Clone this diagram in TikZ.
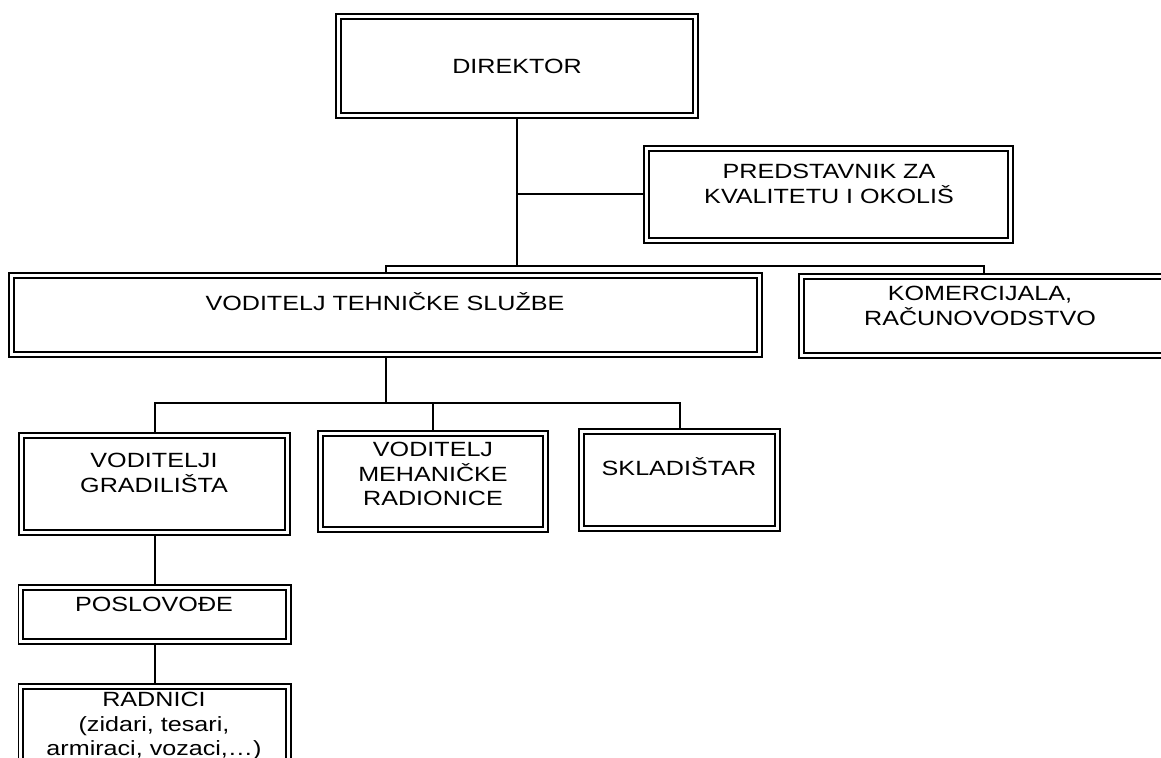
\documentclass[tikz,border=0pt]{standalone}
\usepackage{fontspec}
\setmainfont{Liberation Sans}[FakeStretch=1.22]
\usetikzlibrary{positioning}

\begin{document}
\begin{tikzpicture}[x=0.5pt, y=-0.5pt,
  font=\fontsize{10.3}{12.2}\selectfont,
  unit/.style 2 args={draw, double, double distance=1.5pt, line width=0.9pt, inner sep=0pt, outer sep=1.65pt, minimum width=#1, minimum height=#2},
  lbl/.style={align=center, inner sep=0pt},
  link/.style={line width=1pt}]
\path[use as bounding box, fill=white] (0,0) rectangle (1161,758);
\node[unit={178.7pt}{49.7pt}] (dir) at (517,66) {};
\node[unit={182.2pt}{46.2pt}] (rep) at (828.5,194.5) {};
\node[unit={374.2pt}{39.7pt}] (tech) at (385.5,315) {};
\node[unit={182.7pt}{39.7pt}] (com) at (984,316) {};
\node[unit={133.2pt}{48.7pt}] (site) at (154.5,484) {};
\node[unit={112.7pt}{48.2pt}] (mech) at (433,481.5) {};
\node[unit={98.2pt}{48.7pt}] (store) at (679.5,480) {};
\node[unit={133.7pt}{27.2pt}] (fore) at (154.5,614.5) {};
\node[unit={133.7pt}{42.7pt}] (work) at (154.5,729) {};
\node[lbl] (dirtxt) at (517,66) {DIREKTOR};
\node[lbl] (reptxt) at (829,184) {PREDSTAVNIK ZA\\KVALITETU I OKOLIŠ};
\node[lbl] (techtxt) at (385,302) {VODITELJ TEHNIČKE SLUŽBE};
\node[lbl] (comtxt) at (980,306) {KOMERCIJALA,\\RAČUNOVODSTVO};
\node[lbl] (sitetxt) at (154,473) {VODITELJI\\GRADILIŠTA};
\node[lbl] (mechtxt) at (433,474) {VODITELJ\\MEHANIČKE\\RADIONICE};
\node[lbl] (storetxt) at (679,467) {SKLADIŠTAR};
\node[lbl] (foretxt) at (154,604) {POSLOVOĐE};
\node[lbl] (worktxt) at (154,726) {RADNICI\\(zidari, tesari,\\armiraci, vozaci,…)};
\coordinate (bus) at (517,266);
\coordinate (split) at (385.5,403);
\draw[link] (dir.south) -- (bus);
\draw[link] (rep.west) -- (rep.west -| dir.south);
\draw[link] (tech.north) |- (bus) -| (com.north);
\draw[link] (tech.south) -- (split);
\draw[link] (site.north) |- (split) -| (store.north);
\draw[link] (mech.north) -- (mech.north |- split);
\draw[link] (site.south) -- (fore.north);
\draw[link] (fore.south) -- (work.north);
\end{tikzpicture}
\end{document}
